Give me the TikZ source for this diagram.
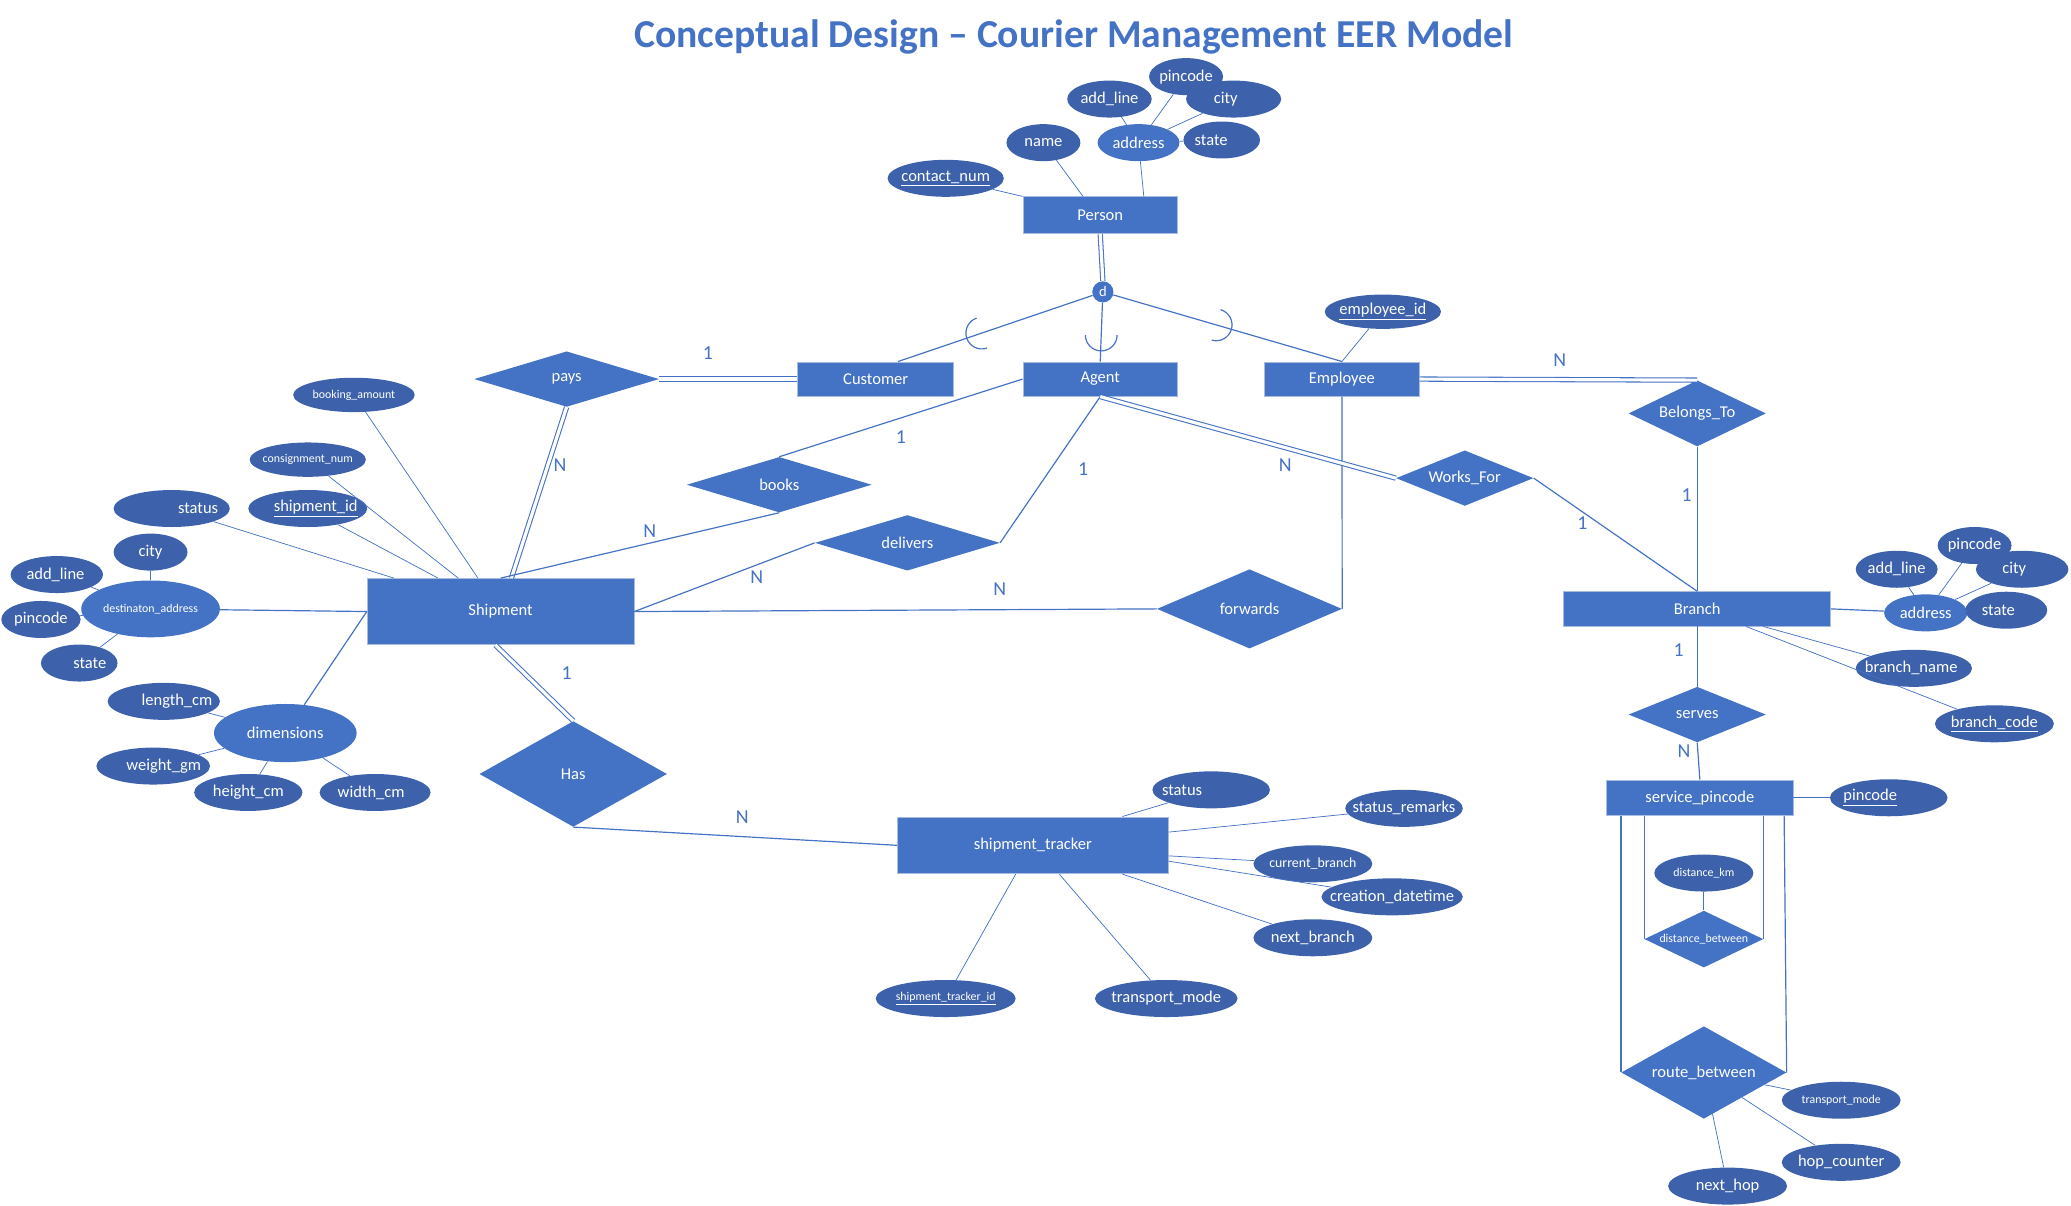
\documentclass[tikz,border=0pt]{standalone}
\usepackage{fontspec}
\setmainfont{Carlito}
\usetikzlibrary{positioning,calc,shapes.geometric}
\definecolor{entc}{HTML}{4472C4}
\definecolor{attrc}{HTML}{3D62AB}
\definecolor{edgec}{HTML}{A9BCE0}
\definecolor{linec}{HTML}{4472C4}
\tikzset{font=\fontsize{12.5}{14}\selectfont}
\tikzset{
	ent/.style={rectangle, fill=entc, draw=edgec, line width=0.6pt, text=white, inner sep=0pt},
	rel/.style={diamond, fill=entc, inner sep=0pt},
	attr/.style={ellipse, fill=attrc, inner sep=0pt, minimum height=28},
	cattr/.style={ellipse, fill=entc, inner sep=0pt, minimum height=28},
	tx/.style={text=white},
	sm/.style={text=white, font=\fontsize{9}{10}\selectfont},
	card/.style={text=linec, font=\fontsize{15}{17}\selectfont},
	con/.style={draw=linec, line width=0.9pt},
	acon/.style={draw=linec, line width=0.55pt},
	dbl/.style={draw=linec, line width=0.8pt, double=white, double distance=2.4pt}
}
\newcommand{\subarc}[2]{\draw[con] ($(#1)+(#2+90:12pt)$) arc[start angle=#2+90, delta angle=180, radius=12pt];}

\begin{document}
\begin{tikzpicture}[x=1pt, y=-1pt]
	\useasboundingbox (0,0) rectangle (1568,913);
	\node[text=entc, font=\bfseries\fontsize{30}{34}\selectfont] (title) at (813,28) {Conceptual Design – Courier Management EER Model};

	\node[ent, minimum width=117, minimum height=28] (person) at (833,163) {Person};
	\node[ent, minimum width=118, minimum height=26] (cust) at (663,287) {Customer};
	\node[ent, minimum width=117, minimum height=26] (agent) at (833,287) {Agent};
	\node[ent, minimum width=117, minimum height=26] (emp) at (1016,287) {Employee};
	\node[ent, minimum width=202, minimum height=50] (ship) at (379,463) {Shipment};
	\node[ent, minimum width=202, minimum height=26] (branch) at (1285,461) {Branch};
	\node[ent, minimum width=141, minimum height=27] (svc) at (1287,604) {service\_pincode};
	\node[ent, minimum width=205, minimum height=43] (track) at (782,640) {shipment\_tracker};

	\node[circle, fill=entc, minimum size=16, inner sep=0pt, text=white, font=\fontsize{11}{12}\selectfont] (dsp) at (835,221) {d};

	\node[rel, minimum width=140, minimum height=42, label={[tx]center:pays}] (pays) at (429,287) {};
	\node[rel, minimum width=140, minimum height=42, label={[tx]center:books}] (books) at (590,367) {};
	\node[rel, minimum width=140, minimum height=42, label={[tx]center:delivers}] (deliv) at (687,411) {};
	\node[rel, minimum width=140, minimum height=60, label={[tx]center:forwards}] (fwd) at (946,461) {};
	\node[rel, minimum width=142, minimum height=80, label={[tx]center:Has}] (has) at (434,586) {};
	\node[rel, minimum width=104, minimum height=42, label={[tx]center:Works\_For}] (works) at (1109,362) {};
	\node[rel, minimum width=104, minimum height=50, label={[tx]center:Belongs\_To}] (belong) at (1285,313) {};
	\node[rel, minimum width=104, minimum height=42, label={[tx]center:serves}] (serves) at (1285,541) {};
	\node[rel, minimum width=90, minimum height=43, label={[sm]center:distance\_between}] (dist) at (1290,711) {};
	\node[rel, minimum width=125, minimum height=70, label={[tx]center:route\_between}] (route) at (1290,812) {};

	\node[attr, minimum width=88, label={[tx]center:\underline{contact\_num}}] (pcontact) at (716,135) {};
	\node[attr, minimum width=56, label={[tx]center:name}] (pname) at (790,108) {};
	\node[cattr, minimum width=62, label={[tx]center:address}] (paddr) at (862,108) {};
	\node[attr, minimum width=64, label={[tx]center:add\_line}] (paddl) at (840,75) {};
	\node[attr, minimum width=56, label={[tx]center:pincode}] (ppin) at (898,58) {};
	\node[attr, minimum width=72, label={[tx, xshift=-6]center:city}] (pcity) at (934,75) {};
	\node[attr, minimum width=58, label={[tx, xshift=-8]center:state}] (pstate) at (925,106) {};
	\node[attr, minimum width=88, minimum height=26, label={[tx]center:\underline{employee\_id}}] (eid) at (1047,236) {};

	\node[attr, minimum width=92, minimum height=26, label={[sm]center:booking\_amount}] (bamt) at (268,299) {};
	\node[attr, minimum width=88, minimum height=26, label={[sm]center:consignment\_num}] (cnum) at (233,348) {};
	\node[attr, minimum width=90, label={[tx, xshift=6]center:\underline{shipment\_id}}] (sid) at (233,385) {};
	\node[attr, minimum width=88, label={[tx, xshift=20]center:status}] (sstat) at (130,385) {};
	\node[cattr, minimum width=105, minimum height=43, label={[sm]center:destinaton\_address}] (daddr) at (114,461) {};
	\node[attr, minimum width=56, label={[tx]center:city}] (dcity) at (114,418) {};
	\node[attr, minimum width=70, label={[tx, xshift=-1]center:add\_line}] (daddl) at (43,435) {};
	\node[attr, minimum width=60, label={[tx]center:pincode}] (dpin) at (31,469) {};
	\node[attr, minimum width=58, label={[tx, xshift=8]center:state}] (dstate) at (60,502) {};
	\node[cattr, minimum width=108, minimum height=44, label={[tx]center:dimensions}] (dims) at (216,555) {};
	\node[attr, minimum width=85, label={[tx, xshift=10]center:length\_cm}] (dlen) at (124,531) {};
	\node[attr, minimum width=86, label={[tx, xshift=8]center:weight\_gm}] (dwgt) at (116,580) {};
	\node[attr, minimum width=82, label={[tx]center:height\_cm}] (dhgt) at (188,600) {};
	\node[attr, minimum width=84, label={[tx, xshift=-3]center:width\_cm}] (dwid) at (284,600) {};

	\node[attr, minimum width=89, label={[tx, xshift=-22]center:status}] (tstat) at (917,598) {};
	\node[attr, minimum width=89, label={[tx]center:status\_remarks}] (trem) at (1063,612) {};
	\node[attr, minimum width=90, label={[text=white, font=\fontsize{10.5}{12}\selectfont]center:current\_branch}] (tcur) at (994,654) {};
	\node[attr, minimum width=107, label={[tx]center:creation\_datetime}] (tcre) at (1054,679) {};
	\node[attr, minimum width=90, label={[tx]center:next\_branch}] (tnext) at (994,710) {};
	\node[attr, minimum width=106, label={[sm]center:\underline{shipment\_tracker\_id}}] (tid) at (716,756) {};
	\node[attr, minimum width=108, label={[tx]center:transport\_mode}] (tmode) at (883,756) {};

	\node[cattr, minimum width=63, label={[tx]center:address}] (baddr) at (1458,464) {};
	\node[attr, minimum width=62, label={[tx]center:add\_line}] (baddl) at (1436,431) {};
	\node[attr, minimum width=56, label={[tx]center:pincode}] (bpin) at (1495,413) {};
	\node[attr, minimum width=70, label={[tx, xshift=-6]center:city}] (bcity) at (1531,431) {};
	\node[attr, minimum width=62, label={[tx, xshift=-6]center:state}] (bstate) at (1519,462) {};
	\node[attr, minimum width=88, label={[tx, xshift=-2]center:branch\_name}] (bname) at (1449,506) {};
	\node[attr, minimum width=90, label={[tx]center:\underline{branch\_code}}] (bcode) at (1510,548) {};
	\node[attr, minimum width=89, label={[tx, xshift=-14]center:\underline{pincode}}] (spin) at (1430,604) {};
	\node[attr, minimum width=75, label={[sm]center:distance\_km}] (dkm) at (1290,661) {};
	\node[attr, minimum width=90, label={[sm]center:transport\_mode}] (rmode) at (1394,833) {};
	\node[attr, minimum width=90, label={[tx]center:hop\_counter}] (rhop) at (1394,880) {};
	\node[attr, minimum width=90, label={[tx]center:next\_hop}] (rnext) at (1308,898) {};

	\draw[acon] (pcontact) -- (person.north west);
	\draw[acon] (pname) -- ($(person.north)+(-13,0)$);
	\draw[acon] (paddr) -- ($(person.north)+(33,0)$);
	\draw[acon] (paddl) -- (paddr);
	\draw[acon] (ppin) -- (paddr);
	\draw[acon] (pcity) -- (paddr);
	\draw[acon] (pstate) -- (paddr);
	\draw[acon] (eid) -- (emp.north);

	\draw[dbl] (person.south) -- (dsp.north);
	\draw[con] (dsp) -- ($(cust.north)+(17,0)$);
	\draw[con] (dsp) -- (agent.north);
	\draw[con] (dsp) -- (emp.north);
	\path (dsp) -- ($(cust.north)+(17,0)$) coordinate[pos=0.57] (subc);
	\path (dsp) -- (agent.north) coordinate[pos=0.55] (suba);
	\path (dsp) -- (emp.north) coordinate[pos=0.45] (sube);
	\subarc{subc}{18.9}
	\subarc{suba}{90}
	\subarc{sube}{163.7}

	\draw[acon] (bamt) -- (ship);
	\draw[acon] (cnum) -- (ship);
	\draw[acon] (sid) -- (ship);
	\draw[acon] (sstat) -- (ship);
	\draw[con] (daddr) -- (ship.west);
	\draw[con] (dims) -- (ship.west);
	\draw[acon] (dcity) -- (daddr);
	\draw[acon] (daddl) -- (daddr);
	\draw[acon] (dpin) -- (daddr);
	\draw[acon] (dstate) -- (daddr);
	\draw[acon] (dlen) -- (dims);
	\draw[acon] (dwgt) -- (dims);
	\draw[acon] (dhgt) -- (dims);
	\draw[acon] (dwid) -- (dims);

	\draw[dbl] (pays.east) -- (cust.west);
	\draw[dbl] (pays.south) -- (ship);
	\draw[con] (books.north) -- (agent.west);
	\draw[con] (books.south) -- (ship.north);
	\draw[con] (deliv.east) -- (agent.south);
	\draw[con] (deliv.west) -- (ship.east);
	\draw[con] (fwd.west) -- (ship.east);
	\draw[con] (fwd.east) -- (emp.south);
	\draw[dbl] (agent.south) -- (works.west);
	\draw[con] (works.east) -- (branch.north);
	\draw[dbl] (emp.east) -- (belong.north);
	\draw[con] (belong.south) -- (branch.north);
	\draw[con] (branch.south) -- (serves.north);
	\draw[con] (serves.south) -- (svc.north);
	\draw[dbl] ($(ship.south)+(-4,0)$) -- (has.north);
	\draw[con] (has.south) -- (track.west);

	\draw[acon] (tstat) -- ($(track.north east)+(-35,0)$);
	\draw[acon] (trem) -- ($(track.east)+(0,-10)$);
	\draw[acon] (tcur) -- ($(track.east)+(0,8)$);
	\draw[acon] (tcre) -- ($(track.east)+(0,12)$);
	\draw[acon] (tnext) -- ($(track.south east)+(-35,0)$);
	\draw[acon] (tid) -- ($(track.south)+(-13,0)$);
	\draw[acon] (tmode) -- ($(track.south)+(20,0)$);

	\draw[con] (baddr) -- (branch.east);
	\draw[acon] (baddl) -- (baddr);
	\draw[acon] (bpin) -- (baddr);
	\draw[acon] (bcity) -- (baddr);
	\draw[acon] (bstate) -- (baddr);
	\draw[acon] (bname) -- ($(branch.south)+(50,0)$);
	\draw[acon] (bcode) -- ($(branch.south)+(37,0)$);
	\draw[con] (spin) -- (svc.east);

	\draw[con] (dist.west) -- (dist.west |- svc.south);
	\draw[con] (dist.east) -- (dist.east |- svc.south);
	\draw[con] (route.west) -- (route.west |- svc.south);
	\draw[con] (route.east) -- ($(svc.south east)+(-7,0)$);
	\draw[con] (dkm) -- (dist.north);
	\draw[acon] (route) -- (rmode);
	\draw[acon] (route) -- (rhop);
	\draw[acon] (route) -- (rnext);

	\node[card] (n1) at (536,267) {1};
	\node[card] (n2) at (424,352) {N};
	\node[card] (n3) at (682,331) {1};
	\node[card] (n4) at (492,402) {N};
	\node[card] (n5) at (820,355) {1};
	\node[card] (n6) at (573,437) {N};
	\node[card] (n7) at (757,446) {N};
	\node[card] (n8) at (973,352) {N};
	\node[card] (n9) at (1198,396) {1};
	\node[card] (n10) at (1181,273) {N};
	\node[card] (n11) at (1277,375) {1};
	\node[card] (n12) at (1271,492) {1};
	\node[card] (n13) at (1275,569) {N};
	\node[card] (n14) at (429,510) {1};
	\node[card] (n15) at (562,619) {N};
\end{tikzpicture}
\end{document}
